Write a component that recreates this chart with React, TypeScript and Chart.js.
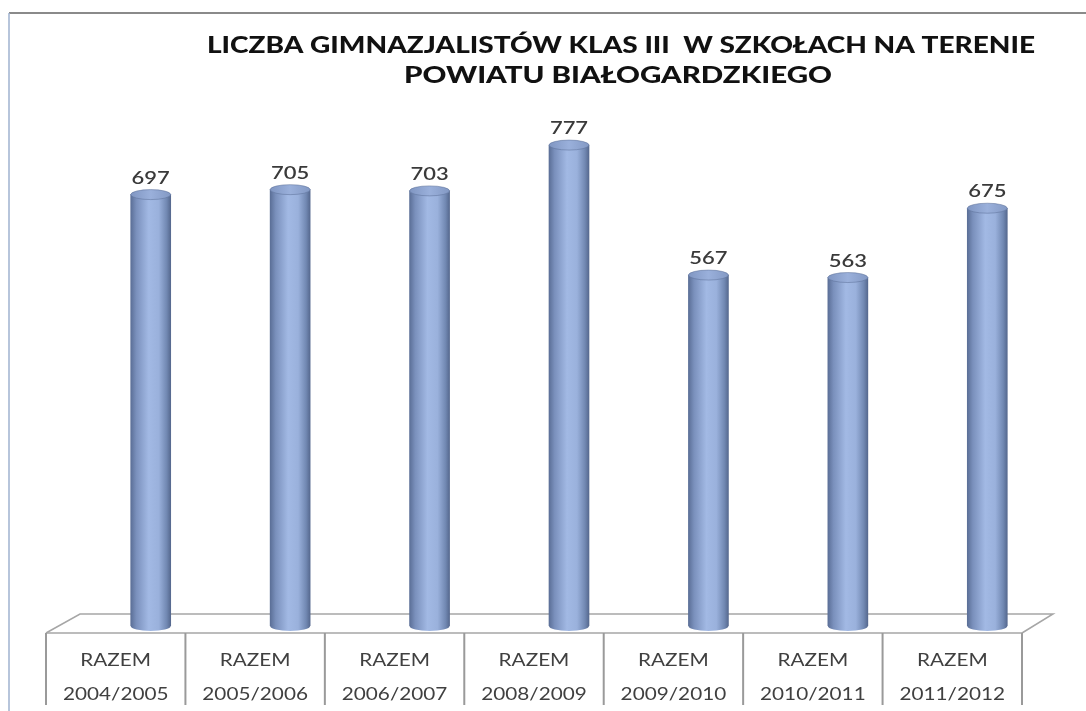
import React, { useEffect, useRef } from "react";
import { Chart, registerables } from "chart.js";

Chart.register(...registerables);

const titleLines = ["LICZBA GIMNAZJALISTÓW KLAS III  W SZKOŁACH NA TERENIE", "POWIATU BIAŁOGARDZKIEGO"];
const categoryTop = ["RAZEM", "RAZEM", "RAZEM", "RAZEM", "RAZEM", "RAZEM", "RAZEM"];
const categoryYears = ["2004/2005", "2005/2006", "2006/2007", "2008/2009", "2009/2010", "2010/2011", "2011/2012"];
const values = [697, 705, 703, 777, 567, 563, 675];

const STRETCH = 1.22;
const DEPTH_X = 35;
const DEPTH_Y = 19;
const FONT = "Lato";

function stretchedText(ctx: CanvasRenderingContext2D, text: string, x: number, y: number, sx: number) {
  ctx.save();
  ctx.translate(x, y);
  ctx.scale(sx, 1);
  ctx.fillText(text, 0, 0);
  ctx.restore();
}

function cylGradient(ctx: CanvasRenderingContext2D, x: number, half: number) {
  const g = ctx.createLinearGradient(x - half, 0, x + half, 0);
  g.addColorStop(0, "#5b6f97");
  g.addColorStop(0.14, "#7a90bc");
  g.addColorStop(0.45, "#a2b9e4");
  g.addColorStop(0.7, "#9ab1dc");
  g.addColorStop(0.9, "#7188b2");
  g.addColorStop(1, "#56698f");
  return g;
}

const decorPlugin = {
  id: "decor",
  beforeDatasetsDraw(chart: any) {
    const { ctx, chartArea } = chart;
    const base = chart.scales.y.getPixelForValue(0);
    const left = chartArea.left - DEPTH_X;
    const right = chartArea.right - DEPTH_X;
    const front = base + 7;
    const back = front - DEPTH_Y;
    ctx.save();
    // frame
    ctx.strokeStyle = "#8a8a8a";
    ctx.lineWidth = 2;
    ctx.beginPath();
    ctx.moveTo(9, 13);
    ctx.lineTo(chart.width, 13);
    ctx.stroke();
    ctx.strokeStyle = "#9fb2cf";
    ctx.lineWidth = 1.5;
    ctx.beginPath();
    ctx.moveTo(9, 13);
    ctx.lineTo(9, chart.height);
    ctx.stroke();
    // floor
    ctx.strokeStyle = "#a6a6a6";
    ctx.lineWidth = 1.5;
    ctx.beginPath();
    ctx.moveTo(left, front);
    ctx.lineTo(left + DEPTH_X - 1, back);
    ctx.lineTo(right + DEPTH_X - 4, back);
    ctx.lineTo(right, front);
    ctx.stroke();
    // title
    ctx.fillStyle = "#111111";
    ctx.textAlign = "left";
    ctx.textBaseline = "alphabetic";
    ctx.font = `900 23px '${FONT}'`;
    const targets = [828, 428];
    const centers = [621, 618];
    const baselines = [53, 83];
    titleLines.forEach((t, i) => {
      const w = ctx.measureText(t).width;
      const sx = targets[i] / w;
      stretchedText(ctx, t, centers[i] - targets[i] / 2, baselines[i], sx);
    });
    ctx.restore();
  },
  afterDatasetsDraw(chart: any) {
    const { ctx, chartArea } = chart;
    const meta = chart.getDatasetMeta(0);
    const base = chart.scales.y.getPixelForValue(0);
    const left = chartArea.left - DEPTH_X;
    const right = chartArea.right - DEPTH_X;
    const front = base + 7;
    ctx.save();
    meta.data.forEach((bar: any, i: number) => {
      const half = bar.width / 2;
      const x = bar.x;
      const ry = 5;
      // bottom cap
      ctx.fillStyle = cylGradient(ctx, x, half);
      ctx.beginPath();
      ctx.ellipse(x, bar.base, half, ry, 0, 0, Math.PI);
      ctx.fill();
      // top cap
      const tg = ctx.createLinearGradient(x - half, 0, x + half, 0);
      tg.addColorStop(0, "#8096c2");
      tg.addColorStop(0.5, "#9ab0db");
      tg.addColorStop(1, "#8399c4");
      ctx.fillStyle = tg;
      ctx.beginPath();
      ctx.ellipse(x, bar.y, half, ry, 0, 0, Math.PI * 2);
      ctx.fill();
      ctx.strokeStyle = "rgba(90,110,150,0.5)";
      ctx.lineWidth = 1;
      ctx.stroke();
      // value label
      ctx.fillStyle = "#3a3a3a";
      ctx.font = `600 18px '${FONT}'`;
      ctx.textBaseline = "alphabetic";
      const label = String(values[i]);
      const w = ctx.measureText(label).width * STRETCH;
      stretchedText(ctx, label, x - w / 2, bar.y - 11, STRETCH);
    });
    // front floor edge and table
    ctx.strokeStyle = "#a6a6a6";
    ctx.lineWidth = 1.5;
    ctx.beginPath();
    ctx.moveTo(left, front);
    ctx.lineTo(right, front);
    ctx.stroke();
    ctx.strokeStyle = "#9a9a9a";
    ctx.lineWidth = 2;
    const n = categoryYears.length;
    const colW = (right - left) / n;
    ctx.beginPath();
    for (let i = 0; i <= n; i++) {
      const cx = left + i * colW;
      ctx.moveTo(cx, front);
      ctx.lineTo(cx, front + 72);
    }
    ctx.stroke();
    ctx.fillStyle = "#404040";
    ctx.font = `17px '${FONT}'`;
    for (let i = 0; i < n; i++) {
      const cx = left + (i + 0.5) * colW;
      const t1 = categoryTop[i];
      const w1 = ctx.measureText(t1).width * STRETCH;
      stretchedText(ctx, t1, cx - w1 / 2, front + 33, STRETCH);
      const t2 = categoryYears[i];
      const w2 = ctx.measureText(t2).width * STRETCH;
      stretchedText(ctx, t2, cx - w2 / 2, front + 67, STRETCH);
    }
    ctx.restore();
  },
};

export default function App() {
  const ref = useRef<HTMLCanvasElement | null>(null);
  useEffect(() => {
    if (!ref.current) return;
    const chart = new Chart(ref.current, {
      type: "bar",
      data: {
        labels: categoryYears,
        datasets: [
          {
            data: values,
            barThickness: 40,
            borderWidth: 0,
            backgroundColor: (c: any) => {
              const ch = c.chart;
              if (!ch.chartArea || !ch.scales.x) return "#8ea5cf";
              const x = ch.scales.x.getPixelForValue(c.dataIndex);
              return cylGradient(ch.ctx, x, 20);
            },
          },
        ],
      },
      options: {
        animation: false,
        responsive: false,
        layout: { padding: { left: 81, right: 29, top: 38, bottom: 85 } },
        plugins: { legend: { display: false }, tooltip: { enabled: false }, title: { display: false } },
        scales: {
          x: { display: false, grid: { display: false } },
          y: { display: false, min: 0, max: 950, grid: { display: false } },
        },
      },
      plugins: [decorPlugin],
    });
    return () => chart.destroy();
  }, []);
  return (
    <div style={{ position: "absolute", left: 0, top: 0, width: 1086, height: 711, background: "#fff" }}>
      <canvas ref={ref} width={1086} height={711} style={{ display: "block" }} />
    </div>
  );
}
